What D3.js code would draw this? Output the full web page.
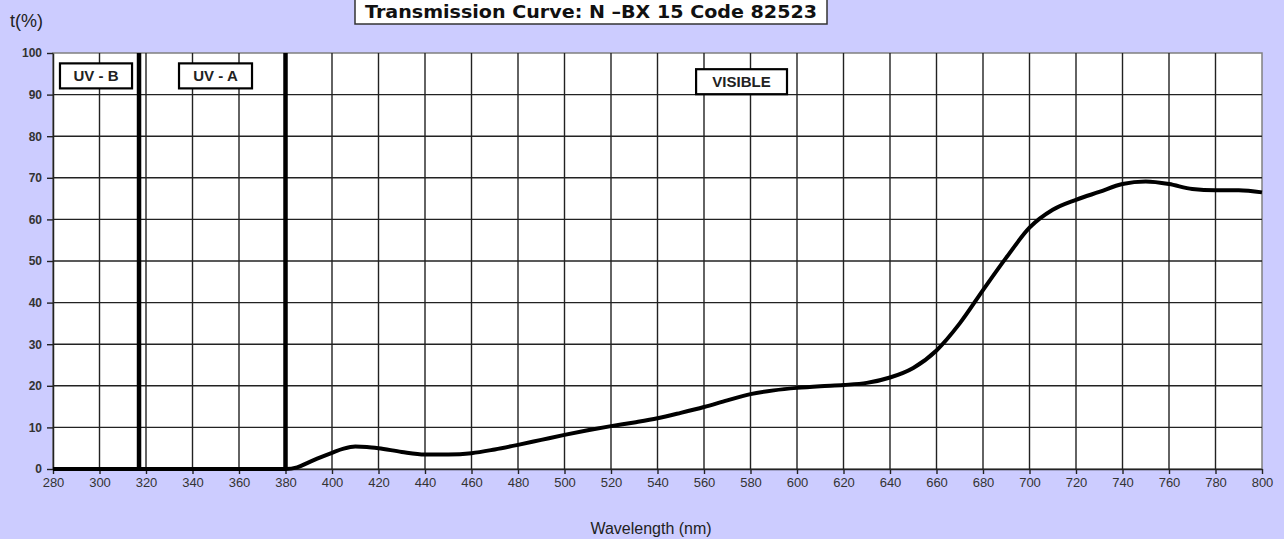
<!DOCTYPE html>
<html><head><meta charset="utf-8">
<script src="https://cdn.jsdelivr.net/npm/d3@7"></script>
<style>html,body{margin:0;padding:0;background:#ccccff;}svg{display:block;}</style>
</head><body>
<svg id="c" width="1284" height="539"></svg>
<script>
const wavelengths = [280,300,320,340,360,370,380,385,390,395,400,405,410,415,420,430,440,450,460,470,480,490,500,510,520,530,540,550,560,570,580,590,600,610,620,630,640,650,660,670,680,690,700,710,720,730,740,750,760,770,780,790,800];
const transmission = [0,0,0,0,0,0,0,0.4,1.6,2.8,3.9,4.9,5.4,5.3,5.0,4.1,3.5,3.5,3.8,4.7,5.8,7.0,8.2,9.3,10.3,11.2,12.2,13.5,14.9,16.5,18.0,18.9,19.5,19.9,20.2,20.7,22.0,24.3,28.5,35.0,43.0,50.8,58.0,62.3,64.7,66.6,68.5,69.1,68.5,67.3,67.0,67.0,66.5];
const xTicks = d3.range(280, 801, 20);
const yTicks = d3.range(0, 101, 10);
const bandLines = [317, 380];
const bandLabels = [
  {text:"UV - B", lo:283, hi:314, y:94.5},
  {text:"UV - A", lo:334.2, hi:365.6, y:94.5},
  {text:"VISIBLE", lo:556.6, hi:595.7, y:93.1}
];
const title = "Transmission Curve: N \u2013BX 15  Code 82523";

const svg = d3.select("#c");
const L = 53, R = 1262, T = 53, B = 469;
const x = d3.scaleLinear().domain([280, 800]).range([L, R]);
const y = d3.scaleLinear().domain([0, 100]).range([B, T]);

svg.append("rect").attr("x",0).attr("y",0).attr("width",1284).attr("height",539).attr("fill","#ccccff");
svg.append("rect").attr("x",L).attr("y",T).attr("width",R-L).attr("height",B-T).attr("fill","#fff").attr("stroke","#808080").attr("stroke-width",1.5);

// grid
svg.append("g").selectAll("line").data(xTicks.slice(1,-1)).join("line")
  .attr("x1",d=>x(d)).attr("x2",d=>x(d)).attr("y1",T).attr("y2",B)
  .attr("stroke","#222").attr("stroke-width",1.4);
svg.append("g").selectAll("line").data(yTicks.slice(1,-1)).join("line")
  .attr("x1",L).attr("x2",R).attr("y1",d=>y(d)).attr("y2",d=>y(d))
  .attr("stroke","#222").attr("stroke-width",1.4);

// axes
const xAxis = svg.append("g").attr("transform",`translate(0,${B})`)
  .call(d3.axisBottom(x).tickValues(xTicks).tickSize(5).tickSizeOuter(0).tickPadding(4));
xAxis.select(".domain").attr("stroke","#222").attr("stroke-width",1.5);
xAxis.selectAll(".tick line").attr("stroke","#222").attr("stroke-width",1.4);
xAxis.selectAll("text").attr("font-family","Liberation Sans, Arial, sans-serif").attr("font-size",13).attr("fill","#333");

const yAxis = svg.append("g").attr("transform",`translate(${L},0)`)
  .call(d3.axisLeft(y).tickValues(yTicks).tickSize(6).tickSizeOuter(0).tickPadding(5));
yAxis.select(".domain").attr("stroke","#222").attr("stroke-width",1.5);
yAxis.selectAll(".tick line").attr("stroke","#222").attr("stroke-width",1.4);
yAxis.selectAll("text").attr("font-family","Liberation Sans, Arial, sans-serif").attr("font-size",12).attr("font-weight","bold").attr("fill","#333");

// band lines
svg.append("g").selectAll("line").data(bandLines).join("line")
  .attr("x1",d=>x(d)).attr("x2",d=>x(d)).attr("y1",T).attr("y2",B)
  .attr("stroke","#000").attr("stroke-width",4.5);

// band labels
const bl = svg.append("g").selectAll("g").data(bandLabels).join("g");
bl.append("rect").attr("x",d=>x(d.lo)).attr("width",d=>x(d.hi)-x(d.lo))
  .attr("y",d=>y(d.y)-12.5).attr("height",25).attr("fill","#fff").attr("stroke","#000").attr("stroke-width",2.2);
bl.append("text").attr("x",d=>(x(d.lo)+x(d.hi))/2).attr("y",d=>y(d.y)+5.5)
  .attr("text-anchor","middle").attr("font-family","Liberation Sans, Arial, sans-serif")
  .attr("font-size",15).attr("font-weight","bold").attr("fill","#222").text(d=>d.text);

// curve
const pts = wavelengths.map((w,i)=>[w, transmission[i]]);
svg.append("path").datum(pts)
  .attr("d", d3.line().x(d=>x(d[0])).y(d=>y(d[1])).curve(d3.curveMonotoneX))
  .attr("fill","none").attr("stroke","#000").attr("stroke-width",4).attr("stroke-linejoin","round");

// title
svg.append("rect").attr("x",355).attr("y",-10).attr("width",472).attr("height",34)
  .attr("fill","#fff").attr("stroke","#333").attr("stroke-width",1.5);
svg.append("text").attr("x",591).attr("y",18).attr("text-anchor","middle")
  .attr("font-family","DejaVu Sans, Verdana, sans-serif").attr("font-weight","bold").attr("font-size",17)
  .attr("textLength",452).attr("lengthAdjust","spacingAndGlyphs").attr("fill","#111").text(title);

svg.append("text").attr("x",10).attr("y",27).attr("font-family","Liberation Sans, Arial, sans-serif")
  .attr("font-size",18).attr("fill","#222").text("t(%)");
svg.append("text").attr("x",651).attr("y",534).attr("text-anchor","middle").attr("font-family","Liberation Sans, Arial, sans-serif")
  .attr("font-size",16).attr("fill","#222").text("Wavelength (nm)");
</script>
</body></html>
